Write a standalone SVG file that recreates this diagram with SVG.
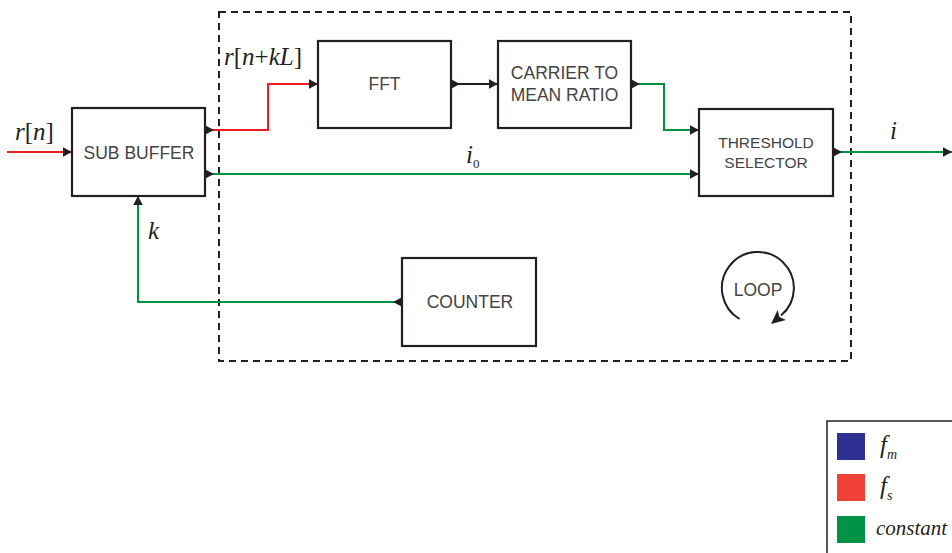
<svg xmlns="http://www.w3.org/2000/svg" width="952" height="553" viewBox="0 0 952 553">
<style>
.box{fill:#fff;stroke:#231f20;stroke-width:2.2}
.lbl{font-family:"Liberation Sans",Arial,sans-serif;fill:#444;text-anchor:middle}
.math{font-family:"Liberation Serif","Times New Roman",serif;fill:#231f20;font-size:25px}
.it{font-style:italic}
.wire{fill:none;stroke-width:2}
.red{stroke:#ed1c24}
.green{stroke:#009245}
.black{stroke:#231f20}
</style>
<defs>
<marker id="src" markerUnits="userSpaceOnUse" markerWidth="12" markerHeight="12" viewBox="0 -6 12 12" refX="0" refY="0" orient="auto">
<path d="M0,-4.8 L9,0 L0,4.8 z" fill="#231f20"/>
</marker>
<marker id="dst" markerUnits="userSpaceOnUse" markerWidth="12" markerHeight="12" viewBox="0 -6 12 12" refX="9" refY="0" orient="auto">
<path d="M0,-4.8 L9,0 L0,4.8 z" fill="#231f20"/>
</marker>
<marker id="loopArrow" markerUnits="userSpaceOnUse" markerWidth="18" markerHeight="18" viewBox="0 -9 18 18" refX="1" refY="0" orient="auto">
<path d="M0,-6.5 L14,0 L0,6.5 L3,0 z" fill="#231f20"/>
</marker>
</defs>

<rect x="219" y="12" width="632" height="349" fill="none" stroke="#231f20" stroke-width="2" stroke-dasharray="7,5"/>

<g id="connectors">
<path class="wire red" d="M7,152 H72" marker-end="url(#dst)"/>
<path class="wire red" d="M205,130 H268 V84 H318" marker-start="url(#src)" marker-end="url(#dst)"/>
<path class="wire black" d="M451,84 H498" marker-start="url(#src)" marker-end="url(#dst)"/>
<path class="wire green" d="M631,84 H664 V130 H699" marker-start="url(#src)" marker-end="url(#dst)"/>
<path class="wire green" d="M205,174 H699" marker-start="url(#src)" marker-end="url(#dst)"/>
<path class="wire green" d="M833,152 H952" marker-start="url(#src)" marker-end="url(#dst)"/>
<path class="wire green" d="M402,302 H138 V196" marker-start="url(#src)" marker-end="url(#dst)"/>
</g>

<g id="subbuffer">
<rect class="box" x="72" y="108" width="133" height="88"/>
<text class="lbl" x="139" y="159" font-size="17.5">SUB BUFFER</text>
</g>
<g id="fft">
<rect class="box" x="318" y="41" width="133" height="87"/>
<text class="lbl" x="384.5" y="90" font-size="17.5">FFT</text>
</g>
<g id="cmr">
<rect class="box" x="498" y="41" width="133" height="87"/>
<text class="lbl" x="564.5" y="79" font-size="17.5">CARRIER TO</text>
<text class="lbl" x="564.5" y="101" font-size="17.5">MEAN RATIO</text>
</g>
<g id="threshold">
<rect class="box" x="699" y="109" width="134" height="87"/>
<text class="lbl" x="766" y="148" font-size="15.5">THRESHOLD</text>
<text class="lbl" x="766" y="168" font-size="15.5">SELECTOR</text>
</g>
<g id="counter">
<rect class="box" x="402" y="258" width="134" height="88"/>
<text class="lbl" x="470" y="308" font-size="17.5">COUNTER</text>
</g>
<g id="loop">
<path d="M739.6,319 A36,36 0 1 1 781,315.6" fill="none" stroke="#231f20" stroke-width="2" marker-end="url(#loopArrow)"/>
<text class="lbl" x="758" y="296" font-size="17.5">LOOP</text>
</g>

<g id="labels">
<text class="math" x="15" y="140"><tspan class="it">r</tspan>[<tspan class="it">n</tspan>]</text>
<text class="math" x="224" y="65"><tspan class="it">r</tspan>[<tspan class="it">n</tspan>+<tspan class="it">kL</tspan>]</text>
<text class="math" x="466" y="163"><tspan class="it">i</tspan><tspan font-size="13" dy="5">0</tspan></text>
<text class="math" x="148" y="239"><tspan class="it">k</tspan></text>
<text class="math" x="890" y="139"><tspan class="it">i</tspan></text>
</g>

<g id="legend">
<rect x="827" y="421" width="140" height="145" fill="#fff" stroke="#231f20" stroke-width="1.5"/>
<rect x="837" y="433" width="28" height="27" fill="#2e3192"/>
<rect x="837" y="474" width="28" height="27" fill="#ef4136"/>
<rect x="837" y="516" width="28" height="27" fill="#009245"/>
<text class="math" x="880" y="453"><tspan class="it">f</tspan><tspan class="it" font-size="14" dy="6">m</tspan></text>
<text class="math" x="880" y="494"><tspan class="it">f</tspan><tspan class="it" font-size="14" dy="6">s</tspan></text>
<text class="math it" x="876" y="535" style="font-size:21px">constant</text>
</g>
</svg>
